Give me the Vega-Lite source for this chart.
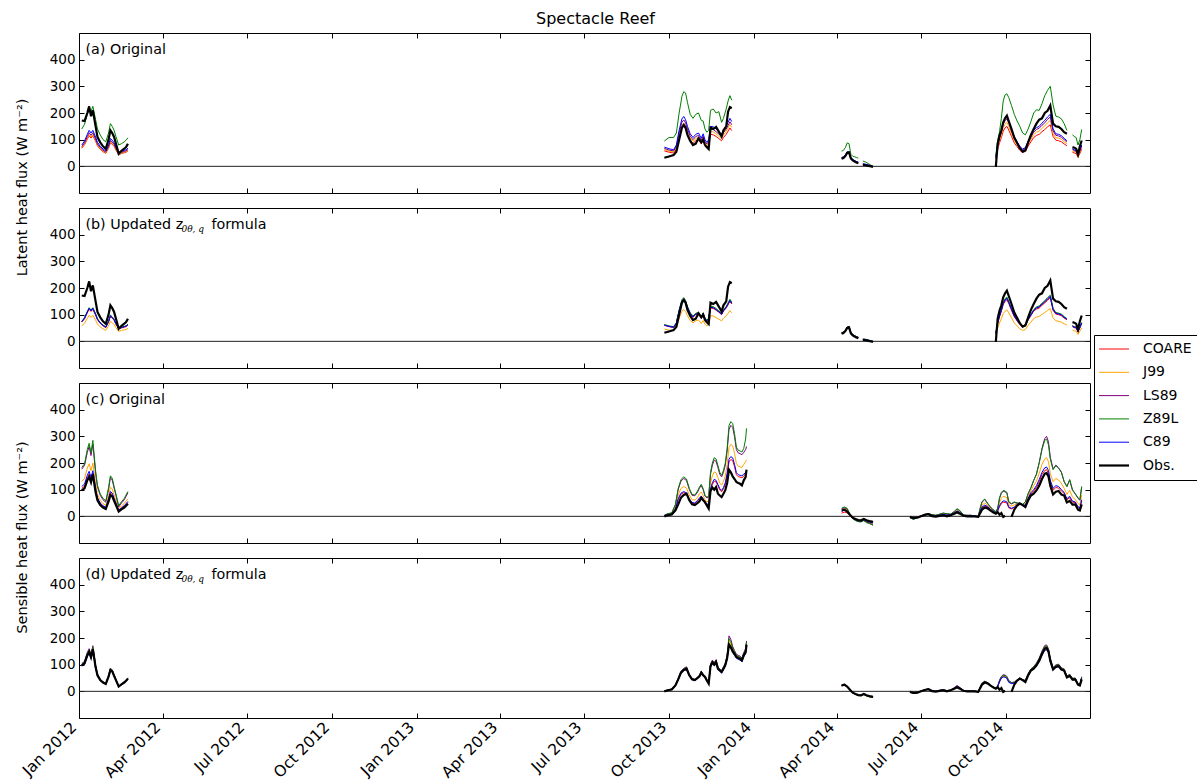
{
  "$schema": "https://vega.github.io/schema/vega-lite/v6.json",
  "padding": {"left": 13, "top": 11, "right": 5, "bottom": 5},
  "bounds": "flush",
  "title": {"text": "Spectacle Reef", "fontSize": 16, "fontWeight": "normal", "font": "DejaVu Sans", "color": "black", "anchor": "middle", "offset": 5, "dx": -11},
  "config": {
    "font": "DejaVu Sans",
    "view": {"stroke": "black", "strokeWidth": 1},
    "axis": {"grid": false, "domain": false, "tickColor": "black", "tickSize": -5, "tickWidth": 1, "labelPadding": 9, "labelFontSize": 13.5, "labelColor": "black", "labelFont": "DejaVu Sans", "titleFont": "DejaVu Sans", "titleFontWeight": "normal", "titleFontSize": 14.5, "titleColor": "black", "labelFlush": false, "labelOverlap": false}
  },
  "datasets": {
    "la": [
      {"d":"2012-01-04","COARE":68,"J99":70,"LS89":74,"Z89L":140,"C89":80,"Obs":172},
      {"d":"2012-01-07","COARE":81,"J99":84,"LS89":88,"Z89L":158,"C89":95,"Obs":170},
      {"d":"2012-01-10","COARE":102,"J99":106,"LS89":112,"Z89L":195,"C89":120,"Obs":200},
      {"d":"2012-01-12","COARE":115,"J99":119,"LS89":126,"Z89L":210,"C89":135,"Obs":225},
      {"d":"2012-01-14","COARE":106,"J99":110,"LS89":116,"Z89L":205,"C89":125,"Obs":188},
      {"d":"2012-01-16","COARE":115,"J99":119,"LS89":126,"Z89L":225,"C89":135,"Obs":210},
      {"d":"2012-01-19","COARE":94,"J99":97,"LS89":102,"Z89L":175,"C89":110,"Obs":150},
      {"d":"2012-01-21","COARE":77,"J99":79,"LS89":84,"Z89L":140,"C89":90,"Obs":110},
      {"d":"2012-01-24","COARE":64,"J99":66,"LS89":70,"Z89L":118,"C89":75,"Obs":90},
      {"d":"2012-01-27","COARE":55,"J99":57,"LS89":60,"Z89L":100,"C89":65,"Obs":75},
      {"d":"2012-01-30","COARE":49,"J99":51,"LS89":54,"Z89L":92,"C89":58,"Obs":66},
      {"d":"2012-02-02","COARE":68,"J99":70,"LS89":74,"Z89L":125,"C89":80,"Obs":100},
      {"d":"2012-02-04","COARE":88,"J99":92,"LS89":97,"Z89L":160,"C89":104,"Obs":135},
      {"d":"2012-02-06","COARE":83,"J99":86,"LS89":91,"Z89L":150,"C89":98,"Obs":125},
      {"d":"2012-02-08","COARE":75,"J99":77,"LS89":82,"Z89L":135,"C89":88,"Obs":110},
      {"d":"2012-02-10","COARE":61,"J99":63,"LS89":67,"Z89L":112,"C89":72,"Obs":85},
      {"d":"2012-02-13","COARE":44,"J99":46,"LS89":48,"Z89L":80,"C89":52,"Obs":47},
      {"d":"2012-02-16","COARE":48,"J99":49,"LS89":52,"Z89L":85,"C89":56,"Obs":58},
      {"d":"2012-02-19","COARE":51,"J99":53,"LS89":56,"Z89L":92,"C89":60,"Obs":66},
      {"d":"2012-02-21","COARE":53,"J99":55,"LS89":58,"Z89L":98,"C89":62,"Obs":72},
      {"d":"2012-02-23","COARE":58,"J99":60,"LS89":63,"Z89L":107,"C89":68,"Obs":85},
      {"d":"2012-06-01"},
      {"d":"2013-09-26","COARE":58,"J99":63,"LS89":67,"Z89L":95,"C89":72,"Obs":32},
      {"d":"2013-10-01","COARE":53,"J99":57,"LS89":61,"Z89L":108,"C89":66,"Obs":37},
      {"d":"2013-10-06","COARE":50,"J99":54,"LS89":58,"Z89L":108,"C89":62,"Obs":42},
      {"d":"2013-10-09","COARE":64,"J99":70,"LS89":74,"Z89L":125,"C89":80,"Obs":55},
      {"d":"2013-10-12","COARE":108,"J99":117,"LS89":126,"Z89L":200,"C89":135,"Obs":100},
      {"d":"2013-10-15","COARE":142,"J99":155,"LS89":166,"Z89L":262,"C89":178,"Obs":145},
      {"d":"2013-10-17","COARE":150,"J99":163,"LS89":174,"Z89L":280,"C89":187,"Obs":155},
      {"d":"2013-10-19","COARE":140,"J99":152,"LS89":163,"Z89L":275,"C89":175,"Obs":145},
      {"d":"2013-10-21","COARE":120,"J99":131,"LS89":140,"Z89L":240,"C89":150,"Obs":118},
      {"d":"2013-10-24","COARE":98,"J99":106,"LS89":113,"Z89L":195,"C89":122,"Obs":95},
      {"d":"2013-10-27","COARE":86,"J99":94,"LS89":100,"Z89L":180,"C89":108,"Obs":80},
      {"d":"2013-10-30","COARE":96,"J99":104,"LS89":112,"Z89L":195,"C89":120,"Obs":85},
      {"d":"2013-11-02","COARE":100,"J99":109,"LS89":116,"Z89L":200,"C89":125,"Obs":105},
      {"d":"2013-11-05","COARE":84,"J99":91,"LS89":98,"Z89L":172,"C89":105,"Obs":90},
      {"d":"2013-11-07","COARE":98,"J99":106,"LS89":113,"Z89L":170,"C89":122,"Obs":100},
      {"d":"2013-11-09","COARE":80,"J99":87,"LS89":93,"Z89L":140,"C89":100,"Obs":80},
      {"d":"2013-11-11","COARE":72,"J99":78,"LS89":84,"Z89L":128,"C89":90,"Obs":72},
      {"d":"2013-11-13","COARE":80,"J99":87,"LS89":93,"Z89L":135,"C89":100,"Obs":65},
      {"d":"2013-11-15","COARE":120,"J99":131,"LS89":140,"Z89L":210,"C89":150,"Obs":145},
      {"d":"2013-11-18","COARE":118,"J99":129,"LS89":138,"Z89L":215,"C89":148,"Obs":140},
      {"d":"2013-11-21","COARE":112,"J99":122,"LS89":130,"Z89L":200,"C89":140,"Obs":148},
      {"d":"2013-11-24","COARE":104,"J99":113,"LS89":121,"Z89L":205,"C89":130,"Obs":130},
      {"d":"2013-11-27","COARE":96,"J99":104,"LS89":112,"Z89L":165,"C89":120,"Obs":112},
      {"d":"2013-11-29","COARE":108,"J99":117,"LS89":126,"Z89L":180,"C89":135,"Obs":135},
      {"d":"2013-12-02","COARE":120,"J99":131,"LS89":140,"Z89L":215,"C89":150,"Obs":150},
      {"d":"2013-12-04","COARE":132,"J99":144,"LS89":153,"Z89L":245,"C89":165,"Obs":205},
      {"d":"2013-12-06","COARE":144,"J99":157,"LS89":167,"Z89L":265,"C89":180,"Obs":222},
      {"d":"2013-12-08","COARE":134,"J99":146,"LS89":156,"Z89L":248,"C89":168,"Obs":218},
      {"d":"2014-01-15"},
      {"d":"2014-04-06","COARE":29,"J99":30,"LS89":32,"Z89L":57,"C89":33,"Obs":29},
      {"d":"2014-04-08","COARE":32,"J99":33,"LS89":35,"Z89L":60,"C89":36,"Obs":31},
      {"d":"2014-04-10","COARE":38,"J99":39,"LS89":41,"Z89L":70,"C89":42,"Obs":38},
      {"d":"2014-04-12","COARE":51,"J99":52,"LS89":54,"Z89L":88,"C89":55,"Obs":50},
      {"d":"2014-04-14","COARE":50,"J99":51,"LS89":53,"Z89L":85,"C89":54,"Obs":52},
      {"d":"2014-04-16","COARE":29,"J99":30,"LS89":32,"Z89L":45,"C89":33,"Obs":30},
      {"d":"2014-04-18","COARE":22,"J99":23,"LS89":25,"Z89L":38,"C89":26,"Obs":22},
      {"d":"2014-04-20","COARE":18,"J99":19,"LS89":21,"Z89L":36,"C89":22,"Obs":18},
      {"d":"2014-04-22","COARE":14,"J99":15,"LS89":17,"Z89L":33,"C89":18,"Obs":14},
      {"d":"2014-04-24","COARE":12,"J99":13,"LS89":15,"Z89L":31,"C89":16,"Obs":12},
      {"d":"2014-04-26"},
      {"d":"2014-04-29","COARE":6,"J99":7,"LS89":9,"Z89L":20,"C89":10,"Obs":5},
      {"d":"2014-05-02","COARE":4,"J99":5,"LS89":7,"Z89L":16,"C89":8,"Obs":4},
      {"d":"2014-05-05","COARE":2,"J99":3,"LS89":4,"Z89L":10,"C89":5,"Obs":2},
      {"d":"2014-05-08","COARE":0,"J99":0,"LS89":1,"Z89L":4,"C89":2,"Obs":0},
      {"d":"2014-05-10","COARE":-2,"J99":-2,"LS89":-1,"Z89L":0,"C89":-1,"Obs":-2},
      {"d":"2014-07-01"},
      {"d":"2014-09-20","COARE":28,"J99":31,"LS89":33,"Z89L":40,"C89":35,"Obs":-2},
      {"d":"2014-09-22","COARE":64,"J99":70,"LS89":76,"Z89L":95,"C89":80,"Obs":85},
      {"d":"2014-09-24","COARE":88,"J99":97,"LS89":105,"Z89L":130,"C89":110,"Obs":115},
      {"d":"2014-09-26","COARE":108,"J99":119,"LS89":128,"Z89L":180,"C89":135,"Obs":135},
      {"d":"2014-09-28","COARE":132,"J99":145,"LS89":157,"Z89L":245,"C89":165,"Obs":165},
      {"d":"2014-09-30","COARE":144,"J99":158,"LS89":171,"Z89L":268,"C89":180,"Obs":180},
      {"d":"2014-10-02","COARE":150,"J99":165,"LS89":178,"Z89L":272,"C89":187,"Obs":190},
      {"d":"2014-10-04","COARE":136,"J99":150,"LS89":162,"Z89L":258,"C89":170,"Obs":170},
      {"d":"2014-10-07","COARE":112,"J99":123,"LS89":133,"Z89L":228,"C89":140,"Obs":140},
      {"d":"2014-10-10","COARE":88,"J99":97,"LS89":105,"Z89L":195,"C89":110,"Obs":108},
      {"d":"2014-10-13","COARE":74,"J99":81,"LS89":87,"Z89L":170,"C89":92,"Obs":88},
      {"d":"2014-10-16","COARE":60,"J99":66,"LS89":71,"Z89L":150,"C89":75,"Obs":68},
      {"d":"2014-10-19","COARE":52,"J99":57,"LS89":62,"Z89L":125,"C89":65,"Obs":55},
      {"d":"2014-10-22","COARE":56,"J99":62,"LS89":67,"Z89L":118,"C89":70,"Obs":60},
      {"d":"2014-10-25","COARE":76,"J99":84,"LS89":90,"Z89L":140,"C89":95,"Obs":90},
      {"d":"2014-10-28","COARE":92,"J99":101,"LS89":109,"Z89L":168,"C89":115,"Obs":118},
      {"d":"2014-10-31","COARE":108,"J99":119,"LS89":128,"Z89L":200,"C89":135,"Obs":140},
      {"d":"2014-11-03","COARE":116,"J99":128,"LS89":138,"Z89L":212,"C89":145,"Obs":160},
      {"d":"2014-11-06","COARE":120,"J99":132,"LS89":143,"Z89L":210,"C89":150,"Obs":175},
      {"d":"2014-11-09","COARE":130,"J99":143,"LS89":154,"Z89L":235,"C89":162,"Obs":180},
      {"d":"2014-11-12","COARE":138,"J99":151,"LS89":163,"Z89L":265,"C89":172,"Obs":200},
      {"d":"2014-11-15","COARE":148,"J99":163,"LS89":176,"Z89L":285,"C89":185,"Obs":208},
      {"d":"2014-11-18","COARE":156,"J99":172,"LS89":185,"Z89L":300,"C89":195,"Obs":228},
      {"d":"2014-11-21","COARE":112,"J99":123,"LS89":133,"Z89L":230,"C89":140,"Obs":160},
      {"d":"2014-11-24","COARE":98,"J99":107,"LS89":116,"Z89L":188,"C89":122,"Obs":150},
      {"d":"2014-11-27","COARE":96,"J99":106,"LS89":114,"Z89L":185,"C89":120,"Obs":148},
      {"d":"2014-11-30","COARE":92,"J99":101,"LS89":109,"Z89L":178,"C89":115,"Obs":140},
      {"d":"2014-12-03","COARE":84,"J99":92,"LS89":100,"Z89L":160,"C89":105,"Obs":128},
      {"d":"2014-12-06","COARE":77,"J99":84,"LS89":91,"Z89L":135,"C89":96,"Obs":122},
      {"d":"2014-12-09"},
      {"d":"2014-12-12","COARE":53,"J99":58,"LS89":63,"Z89L":118,"C89":66,"Obs":72},
      {"d":"2014-12-14","COARE":50,"J99":55,"LS89":59,"Z89L":112,"C89":62,"Obs":70},
      {"d":"2014-12-16","COARE":48,"J99":53,"LS89":57,"Z89L":108,"C89":60,"Obs":66},
      {"d":"2014-12-18","COARE":34,"J99":37,"LS89":40,"Z89L":80,"C89":42,"Obs":45},
      {"d":"2014-12-20","COARE":48,"J99":53,"LS89":57,"Z89L":100,"C89":60,"Obs":75},
      {"d":"2014-12-22","COARE":64,"J99":70,"LS89":76,"Z89L":138,"C89":80,"Obs":97}
    ],
    "lb": [
      {"d":"2012-01-04","COARE":72,"J99":58,"LS89":74,"Z89L":75,"C89":74,"Obs":172},
      {"d":"2012-01-07","COARE":84,"J99":68,"LS89":87,"Z89L":89,"C89":87,"Obs":170},
      {"d":"2012-01-10","COARE":107,"J99":86,"LS89":110,"Z89L":112,"C89":110,"Obs":200},
      {"d":"2012-01-12","COARE":120,"J99":97,"LS89":124,"Z89L":126,"C89":124,"Obs":225},
      {"d":"2012-01-14","COARE":112,"J99":90,"LS89":115,"Z89L":117,"C89":115,"Obs":188},
      {"d":"2012-01-16","COARE":120,"J99":97,"LS89":124,"Z89L":126,"C89":124,"Obs":210},
      {"d":"2012-01-19","COARE":98,"J99":79,"LS89":101,"Z89L":103,"C89":101,"Obs":150},
      {"d":"2012-01-21","COARE":81,"J99":65,"LS89":83,"Z89L":85,"C89":83,"Obs":110},
      {"d":"2012-01-24","COARE":67,"J99":54,"LS89":69,"Z89L":70,"C89":69,"Obs":90},
      {"d":"2012-01-27","COARE":58,"J99":47,"LS89":60,"Z89L":61,"C89":60,"Obs":75},
      {"d":"2012-01-30","COARE":51,"J99":41,"LS89":53,"Z89L":54,"C89":53,"Obs":66},
      {"d":"2012-02-02","COARE":72,"J99":58,"LS89":74,"Z89L":75,"C89":74,"Obs":100},
      {"d":"2012-02-04","COARE":93,"J99":75,"LS89":96,"Z89L":98,"C89":96,"Obs":135},
      {"d":"2012-02-06","COARE":87,"J99":70,"LS89":90,"Z89L":92,"C89":90,"Obs":125},
      {"d":"2012-02-08","COARE":79,"J99":63,"LS89":81,"Z89L":83,"C89":81,"Obs":110},
      {"d":"2012-02-10","COARE":64,"J99":51,"LS89":66,"Z89L":67,"C89":66,"Obs":85},
      {"d":"2012-02-13","COARE":47,"J99":37,"LS89":48,"Z89L":49,"C89":48,"Obs":47},
      {"d":"2012-02-16","COARE":50,"J99":41,"LS89":52,"Z89L":53,"C89":52,"Obs":58},
      {"d":"2012-02-19","COARE":53,"J99":43,"LS89":55,"Z89L":56,"C89":55,"Obs":66},
      {"d":"2012-02-21","COARE":55,"J99":44,"LS89":57,"Z89L":58,"C89":57,"Obs":72},
      {"d":"2012-02-23","COARE":61,"J99":49,"LS89":63,"Z89L":64,"C89":63,"Obs":85},
      {"d":"2012-06-01"},
      {"d":"2013-09-26","COARE":60,"J99":46,"LS89":61,"Z89L":63,"C89":61,"Obs":32},
      {"d":"2013-10-01","COARE":55,"J99":42,"LS89":56,"Z89L":58,"C89":56,"Obs":37},
      {"d":"2013-10-06","COARE":52,"J99":40,"LS89":53,"Z89L":55,"C89":53,"Obs":42},
      {"d":"2013-10-09","COARE":67,"J99":51,"LS89":68,"Z89L":70,"C89":68,"Obs":55},
      {"d":"2013-10-12","COARE":113,"J99":86,"LS89":115,"Z89L":118,"C89":115,"Obs":100},
      {"d":"2013-10-15","COARE":148,"J99":113,"LS89":151,"Z89L":156,"C89":151,"Obs":145},
      {"d":"2013-10-17","COARE":156,"J99":119,"LS89":159,"Z89L":164,"C89":159,"Obs":155},
      {"d":"2013-10-19","COARE":146,"J99":112,"LS89":149,"Z89L":153,"C89":149,"Obs":145},
      {"d":"2013-10-21","COARE":125,"J99":96,"LS89":128,"Z89L":131,"C89":128,"Obs":118},
      {"d":"2013-10-24","COARE":102,"J99":78,"LS89":104,"Z89L":107,"C89":104,"Obs":95},
      {"d":"2013-10-27","COARE":90,"J99":69,"LS89":92,"Z89L":95,"C89":92,"Obs":80},
      {"d":"2013-10-30","COARE":100,"J99":77,"LS89":102,"Z89L":105,"C89":102,"Obs":85},
      {"d":"2013-11-02","COARE":104,"J99":80,"LS89":106,"Z89L":109,"C89":106,"Obs":105},
      {"d":"2013-11-05","COARE":87,"J99":67,"LS89":89,"Z89L":92,"C89":89,"Obs":90},
      {"d":"2013-11-07","COARE":102,"J99":78,"LS89":104,"Z89L":107,"C89":104,"Obs":100},
      {"d":"2013-11-09","COARE":83,"J99":64,"LS89":85,"Z89L":88,"C89":85,"Obs":80},
      {"d":"2013-11-11","COARE":75,"J99":58,"LS89":77,"Z89L":79,"C89":77,"Obs":72},
      {"d":"2013-11-13","COARE":83,"J99":64,"LS89":85,"Z89L":88,"C89":85,"Obs":65},
      {"d":"2013-11-15","COARE":125,"J99":96,"LS89":128,"Z89L":131,"C89":128,"Obs":145},
      {"d":"2013-11-18","COARE":123,"J99":95,"LS89":126,"Z89L":130,"C89":126,"Obs":140},
      {"d":"2013-11-21","COARE":117,"J99":89,"LS89":119,"Z89L":123,"C89":119,"Obs":148},
      {"d":"2013-11-24","COARE":109,"J99":83,"LS89":111,"Z89L":114,"C89":111,"Obs":130},
      {"d":"2013-11-27","COARE":100,"J99":77,"LS89":102,"Z89L":105,"C89":102,"Obs":112},
      {"d":"2013-11-29","COARE":113,"J99":86,"LS89":115,"Z89L":118,"C89":115,"Obs":135},
      {"d":"2013-12-02","COARE":125,"J99":96,"LS89":128,"Z89L":131,"C89":128,"Obs":150},
      {"d":"2013-12-04","COARE":137,"J99":105,"LS89":140,"Z89L":144,"C89":140,"Obs":205},
      {"d":"2013-12-06","COARE":150,"J99":115,"LS89":153,"Z89L":158,"C89":153,"Obs":222},
      {"d":"2013-12-08","COARE":140,"J99":107,"LS89":143,"Z89L":147,"C89":143,"Obs":218},
      {"d":"2014-01-15"},
      {"d":"2014-04-06","COARE":30,"J99":29,"LS89":31,"Z89L":33,"C89":32,"Obs":29},
      {"d":"2014-04-08","COARE":32,"J99":31,"LS89":33,"Z89L":35,"C89":34,"Obs":31},
      {"d":"2014-04-10","COARE":39,"J99":38,"LS89":40,"Z89L":42,"C89":41,"Obs":38},
      {"d":"2014-04-12","COARE":51,"J99":50,"LS89":52,"Z89L":54,"C89":53,"Obs":50},
      {"d":"2014-04-14","COARE":53,"J99":52,"LS89":54,"Z89L":56,"C89":55,"Obs":52},
      {"d":"2014-04-16","COARE":31,"J99":30,"LS89":32,"Z89L":34,"C89":33,"Obs":30},
      {"d":"2014-04-18","COARE":23,"J99":22,"LS89":24,"Z89L":26,"C89":25,"Obs":22},
      {"d":"2014-04-20","COARE":19,"J99":18,"LS89":20,"Z89L":22,"C89":21,"Obs":18},
      {"d":"2014-04-22","COARE":15,"J99":14,"LS89":16,"Z89L":18,"C89":17,"Obs":14},
      {"d":"2014-04-24","COARE":13,"J99":12,"LS89":14,"Z89L":16,"C89":15,"Obs":12},
      {"d":"2014-04-26"},
      {"d":"2014-04-29","COARE":6,"J99":5,"LS89":7,"Z89L":9,"C89":8,"Obs":5},
      {"d":"2014-05-02","COARE":5,"J99":4,"LS89":6,"Z89L":8,"C89":7,"Obs":4},
      {"d":"2014-05-05","COARE":3,"J99":2,"LS89":4,"Z89L":5,"C89":4,"Obs":2},
      {"d":"2014-05-08","COARE":1,"J99":0,"LS89":1,"Z89L":2,"C89":1,"Obs":0},
      {"d":"2014-05-10","COARE":-1,"J99":-2,"LS89":-1,"Z89L":0,"C89":-1,"Obs":-2},
      {"d":"2014-07-01"},
      {"d":"2014-09-20","COARE":29,"J99":22,"LS89":30,"Z89L":31,"C89":30,"Obs":-2},
      {"d":"2014-09-22","COARE":67,"J99":50,"LS89":69,"Z89L":71,"C89":69,"Obs":85},
      {"d":"2014-09-24","COARE":92,"J99":69,"LS89":95,"Z89L":98,"C89":95,"Obs":115},
      {"d":"2014-09-26","COARE":113,"J99":85,"LS89":116,"Z89L":119,"C89":116,"Obs":135},
      {"d":"2014-09-28","COARE":138,"J99":104,"LS89":142,"Z89L":146,"C89":142,"Obs":165},
      {"d":"2014-09-30","COARE":150,"J99":113,"LS89":155,"Z89L":160,"C89":155,"Obs":180},
      {"d":"2014-10-02","COARE":156,"J99":118,"LS89":161,"Z89L":166,"C89":161,"Obs":190},
      {"d":"2014-10-04","COARE":142,"J99":107,"LS89":146,"Z89L":150,"C89":146,"Obs":170},
      {"d":"2014-10-07","COARE":116,"J99":88,"LS89":120,"Z89L":124,"C89":120,"Obs":140},
      {"d":"2014-10-10","COARE":92,"J99":69,"LS89":95,"Z89L":98,"C89":95,"Obs":108},
      {"d":"2014-10-13","COARE":77,"J99":58,"LS89":79,"Z89L":81,"C89":79,"Obs":88},
      {"d":"2014-10-16","COARE":63,"J99":47,"LS89":65,"Z89L":67,"C89":65,"Obs":68},
      {"d":"2014-10-19","COARE":54,"J99":41,"LS89":56,"Z89L":58,"C89":56,"Obs":55},
      {"d":"2014-10-22","COARE":58,"J99":44,"LS89":60,"Z89L":62,"C89":60,"Obs":60},
      {"d":"2014-10-25","COARE":80,"J99":60,"LS89":82,"Z89L":84,"C89":82,"Obs":90},
      {"d":"2014-10-28","COARE":96,"J99":72,"LS89":99,"Z89L":102,"C89":99,"Obs":118},
      {"d":"2014-10-31","COARE":113,"J99":85,"LS89":116,"Z89L":119,"C89":116,"Obs":140},
      {"d":"2014-11-03","COARE":121,"J99":91,"LS89":125,"Z89L":129,"C89":125,"Obs":160},
      {"d":"2014-11-06","COARE":125,"J99":94,"LS89":129,"Z89L":133,"C89":129,"Obs":175},
      {"d":"2014-11-09","COARE":135,"J99":101,"LS89":139,"Z89L":143,"C89":139,"Obs":180},
      {"d":"2014-11-12","COARE":144,"J99":108,"LS89":148,"Z89L":152,"C89":148,"Obs":200},
      {"d":"2014-11-15","COARE":154,"J99":116,"LS89":159,"Z89L":164,"C89":159,"Obs":208},
      {"d":"2014-11-18","COARE":163,"J99":123,"LS89":168,"Z89L":173,"C89":168,"Obs":228},
      {"d":"2014-11-21","COARE":116,"J99":88,"LS89":120,"Z89L":124,"C89":120,"Obs":160},
      {"d":"2014-11-24","COARE":102,"J99":77,"LS89":105,"Z89L":108,"C89":105,"Obs":150},
      {"d":"2014-11-27","COARE":100,"J99":75,"LS89":103,"Z89L":106,"C89":103,"Obs":148},
      {"d":"2014-11-30","COARE":96,"J99":72,"LS89":99,"Z89L":102,"C89":99,"Obs":140},
      {"d":"2014-12-03","COARE":87,"J99":66,"LS89":90,"Z89L":93,"C89":90,"Obs":128},
      {"d":"2014-12-06","COARE":81,"J99":61,"LS89":83,"Z89L":85,"C89":83,"Obs":122},
      {"d":"2014-12-09"},
      {"d":"2014-12-12","COARE":55,"J99":42,"LS89":57,"Z89L":59,"C89":57,"Obs":72},
      {"d":"2014-12-14","COARE":51,"J99":39,"LS89":53,"Z89L":55,"C89":53,"Obs":70},
      {"d":"2014-12-16","COARE":50,"J99":38,"LS89":52,"Z89L":54,"C89":52,"Obs":66},
      {"d":"2014-12-18","COARE":35,"J99":26,"LS89":36,"Z89L":37,"C89":36,"Obs":45},
      {"d":"2014-12-20","COARE":50,"J99":38,"LS89":52,"Z89L":54,"C89":52,"Obs":75},
      {"d":"2014-12-22","COARE":67,"J99":50,"LS89":69,"Z89L":71,"C89":69,"Obs":97}
    ],
    "sc": [
      {"d":"2012-01-04","COARE":105,"J99":131,"LS89":177,"Z89L":183,"C89":112,"Obs":97},
      {"d":"2012-01-07","COARE":113,"J99":142,"LS89":191,"Z89L":197,"C89":121,"Obs":105},
      {"d":"2012-01-10","COARE":145,"J99":181,"LS89":240,"Z89L":251,"C89":154,"Obs":135},
      {"d":"2012-01-12","COARE":159,"J99":197,"LS89":262,"Z89L":274,"C89":169,"Obs":148},
      {"d":"2012-01-14","COARE":138,"J99":171,"LS89":228,"Z89L":238,"C89":146,"Obs":128},
      {"d":"2012-01-16","COARE":161,"J99":200,"LS89":270,"Z89L":285,"C89":171,"Obs":158},
      {"d":"2012-01-19","COARE":97,"J99":122,"LS89":162,"Z89L":170,"C89":104,"Obs":90},
      {"d":"2012-01-21","COARE":66,"J99":83,"LS89":110,"Z89L":116,"C89":70,"Obs":60},
      {"d":"2012-01-24","COARE":47,"J99":60,"LS89":79,"Z89L":84,"C89":50,"Obs":42},
      {"d":"2012-01-27","COARE":37,"J99":48,"LS89":62,"Z89L":67,"C89":40,"Obs":33},
      {"d":"2012-01-30","COARE":32,"J99":41,"LS89":53,"Z89L":58,"C89":34,"Obs":28},
      {"d":"2012-02-02","COARE":60,"J99":77,"LS89":101,"Z89L":107,"C89":65,"Obs":55},
      {"d":"2012-02-04","COARE":87,"J99":109,"LS89":145,"Z89L":152,"C89":93,"Obs":80},
      {"d":"2012-02-06","COARE":82,"J99":103,"LS89":136,"Z89L":143,"C89":87,"Obs":75},
      {"d":"2012-02-08","COARE":63,"J99":80,"LS89":106,"Z89L":112,"C89":68,"Obs":58},
      {"d":"2012-02-10","COARE":47,"J99":60,"LS89":79,"Z89L":84,"C89":50,"Obs":42},
      {"d":"2012-02-13","COARE":21,"J99":28,"LS89":35,"Z89L":40,"C89":23,"Obs":18},
      {"d":"2012-02-16","COARE":30,"J99":39,"LS89":50,"Z89L":55,"C89":32,"Obs":26},
      {"d":"2012-02-19","COARE":37,"J99":48,"LS89":62,"Z89L":67,"C89":40,"Obs":33},
      {"d":"2012-02-21","COARE":44,"J99":57,"LS89":75,"Z89L":80,"C89":48,"Obs":40},
      {"d":"2012-02-23","COARE":52,"J99":66,"LS89":88,"Z89L":93,"C89":56,"Obs":47},
      {"d":"2012-06-01"},
      {"d":"2013-09-26","COARE":2,"J99":3,"LS89":4,"Z89L":4,"C89":3,"Obs":0},
      {"d":"2013-09-30","COARE":6,"J99":8,"LS89":10,"Z89L":10,"C89":6,"Obs":4},
      {"d":"2013-10-04","COARE":8,"J99":10,"LS89":12,"Z89L":13,"C89":8,"Obs":7},
      {"d":"2013-10-08","COARE":27,"J99":34,"LS89":43,"Z89L":45,"C89":28,"Obs":22},
      {"d":"2013-10-11","COARE":63,"J99":80,"LS89":101,"Z89L":105,"C89":66,"Obs":45},
      {"d":"2013-10-14","COARE":83,"J99":105,"LS89":132,"Z89L":138,"C89":87,"Obs":70},
      {"d":"2013-10-17","COARE":89,"J99":112,"LS89":142,"Z89L":148,"C89":93,"Obs":80},
      {"d":"2013-10-20","COARE":84,"J99":106,"LS89":134,"Z89L":140,"C89":88,"Obs":85},
      {"d":"2013-10-23","COARE":63,"J99":80,"LS89":101,"Z89L":105,"C89":66,"Obs":60},
      {"d":"2013-10-26","COARE":49,"J99":62,"LS89":79,"Z89L":82,"C89":52,"Obs":45},
      {"d":"2013-10-29","COARE":48,"J99":61,"LS89":77,"Z89L":80,"C89":50,"Obs":42},
      {"d":"2013-11-01","COARE":57,"J99":72,"LS89":91,"Z89L":95,"C89":60,"Obs":50},
      {"d":"2013-11-03","COARE":66,"J99":84,"LS89":106,"Z89L":110,"C89":69,"Obs":56},
      {"d":"2013-11-05","COARE":72,"J99":91,"LS89":115,"Z89L":120,"C89":76,"Obs":70},
      {"d":"2013-11-07","COARE":62,"J99":79,"LS89":100,"Z89L":104,"C89":66,"Obs":60},
      {"d":"2013-11-09","COARE":47,"J99":60,"LS89":76,"Z89L":79,"C89":50,"Obs":54},
      {"d":"2013-11-11","COARE":43,"J99":55,"LS89":69,"Z89L":72,"C89":45,"Obs":41},
      {"d":"2013-11-13","COARE":45,"J99":57,"LS89":72,"Z89L":75,"C89":47,"Obs":29},
      {"d":"2013-11-15","COARE":99,"J99":125,"LS89":158,"Z89L":165,"C89":104,"Obs":95},
      {"d":"2013-11-17","COARE":120,"J99":152,"LS89":192,"Z89L":200,"C89":126,"Obs":108},
      {"d":"2013-11-19","COARE":132,"J99":167,"LS89":211,"Z89L":220,"C89":139,"Obs":100},
      {"d":"2013-11-21","COARE":129,"J99":163,"LS89":206,"Z89L":215,"C89":135,"Obs":110},
      {"d":"2013-11-23","COARE":115,"J99":145,"LS89":183,"Z89L":191,"C89":120,"Obs":85},
      {"d":"2013-11-25","COARE":99,"J99":125,"LS89":158,"Z89L":165,"C89":104,"Obs":78},
      {"d":"2013-11-27","COARE":92,"J99":117,"LS89":148,"Z89L":154,"C89":97,"Obs":72},
      {"d":"2013-11-29","COARE":103,"J99":131,"LS89":165,"Z89L":172,"C89":108,"Obs":85},
      {"d":"2013-12-01","COARE":120,"J99":152,"LS89":192,"Z89L":200,"C89":126,"Obs":98},
      {"d":"2013-12-03","COARE":153,"J99":194,"LS89":245,"Z89L":255,"C89":161,"Obs":125},
      {"d":"2013-12-05","COARE":204,"J99":258,"LS89":326,"Z89L":340,"C89":214,"Obs":175},
      {"d":"2013-12-07","COARE":213,"J99":270,"LS89":341,"Z89L":355,"C89":224,"Obs":165},
      {"d":"2013-12-09","COARE":209,"J99":264,"LS89":334,"Z89L":348,"C89":219,"Obs":150},
      {"d":"2013-12-11","COARE":186,"J99":236,"LS89":298,"Z89L":310,"C89":195,"Obs":140},
      {"d":"2013-12-13","COARE":156,"J99":198,"LS89":250,"Z89L":260,"C89":164,"Obs":129},
      {"d":"2013-12-15","COARE":149,"J99":188,"LS89":238,"Z89L":248,"C89":156,"Obs":125},
      {"d":"2013-12-17","COARE":147,"J99":186,"LS89":235,"Z89L":245,"C89":154,"Obs":122},
      {"d":"2013-12-19","COARE":145,"J99":183,"LS89":231,"Z89L":241,"C89":152,"Obs":116},
      {"d":"2013-12-21","COARE":150,"J99":195,"LS89":240,"Z89L":255,"C89":158,"Obs":135},
      {"d":"2013-12-23","COARE":162,"J99":205,"LS89":250,"Z89L":290,"C89":165,"Obs":147},
      {"d":"2013-12-24","COARE":170,"J99":212,"LS89":262,"Z89L":330,"C89":172,"Obs":175},
      {"d":"2014-01-15"},
      {"d":"2014-04-06","COARE":12,"J99":20,"LS89":28,"Z89L":31,"C89":18,"Obs":22},
      {"d":"2014-04-09","COARE":16,"J99":28,"LS89":32,"Z89L":35,"C89":24,"Obs":25},
      {"d":"2014-04-12","COARE":13,"J99":24,"LS89":28,"Z89L":30,"C89":20,"Obs":18},
      {"d":"2014-04-15","COARE":3,"J99":7,"LS89":7,"Z89L":8,"C89":6,"Obs":6},
      {"d":"2014-04-18","COARE":-6,"J99":-7,"LS89":-8,"Z89L":-9,"C89":-6,"Obs":-5},
      {"d":"2014-04-21","COARE":-10,"J99":-13,"LS89":-15,"Z89L":-16,"C89":-12,"Obs":-10},
      {"d":"2014-04-24","COARE":-14,"J99":-17,"LS89":-19,"Z89L":-20,"C89":-16,"Obs":-14},
      {"d":"2014-04-27","COARE":-15,"J99":-18,"LS89":-20,"Z89L":-21,"C89":-17,"Obs":-15},
      {"d":"2014-04-30","COARE":-11,"J99":-13,"LS89":-15,"Z89L":-16,"C89":-12,"Obs":-10},
      {"d":"2014-05-03","COARE":-16,"J99":-20,"LS89":-22,"Z89L":-24,"C89":-18,"Obs":-15},
      {"d":"2014-05-06","COARE":-19,"J99":-23,"LS89":-25,"Z89L":-27,"C89":-21,"Obs":-18},
      {"d":"2014-05-09","COARE":-22,"J99":-27,"LS89":-30,"Z89L":-32,"C89":-24,"Obs":-20},
      {"d":"2014-05-10","COARE":-23,"J99":-28,"LS89":-32,"Z89L":-34,"C89":-25,"Obs":-21},
      {"d":"2014-06-01"},
      {"d":"2014-06-19","COARE":-3,"J99":-4,"LS89":-5,"Z89L":-5,"C89":-3,"Obs":-2},
      {"d":"2014-06-23","COARE":-7,"J99":-9,"LS89":-11,"Z89L":-12,"C89":-8,"Obs":-6},
      {"d":"2014-06-27","COARE":-4,"J99":-4,"LS89":-3,"Z89L":-3,"C89":-4,"Obs":-5},
      {"d":"2014-07-01","COARE":1,"J99":1,"LS89":2,"Z89L":2,"C89":1,"Obs":0},
      {"d":"2014-07-05","COARE":6,"J99":7,"LS89":8,"Z89L":8,"C89":6,"Obs":5},
      {"d":"2014-07-09","COARE":8,"J99":9,"LS89":10,"Z89L":10,"C89":9,"Obs":8},
      {"d":"2014-07-13","COARE":3,"J99":4,"LS89":6,"Z89L":6,"C89":3,"Obs":1},
      {"d":"2014-07-17","COARE":1,"J99":2,"LS89":4,"Z89L":4,"C89":1,"Obs":-1},
      {"d":"2014-07-21","COARE":4,"J99":5,"LS89":8,"Z89L":8,"C89":4,"Obs":2},
      {"d":"2014-07-25","COARE":6,"J99":8,"LS89":12,"Z89L":12,"C89":7,"Obs":4},
      {"d":"2014-07-29","COARE":4,"J99":6,"LS89":9,"Z89L":10,"C89":5,"Obs":0},
      {"d":"2014-08-02","COARE":5,"J99":6,"LS89":8,"Z89L":8,"C89":6,"Obs":4},
      {"d":"2014-08-06","COARE":12,"J99":14,"LS89":18,"Z89L":18,"C89":13,"Obs":10},
      {"d":"2014-08-09","COARE":18,"J99":22,"LS89":28,"Z89L":28,"C89":20,"Obs":15},
      {"d":"2014-08-12","COARE":14,"J99":17,"LS89":21,"Z89L":22,"C89":15,"Obs":10},
      {"d":"2014-08-16","COARE":3,"J99":4,"LS89":5,"Z89L":5,"C89":3,"Obs":2},
      {"d":"2014-08-20","COARE":2,"J99":3,"LS89":4,"Z89L":4,"C89":2,"Obs":0},
      {"d":"2014-08-24","COARE":2,"J99":3,"LS89":4,"Z89L":4,"C89":2,"Obs":0},
      {"d":"2014-08-28","COARE":1,"J99":1,"LS89":2,"Z89L":2,"C89":1,"Obs":0},
      {"d":"2014-09-01","COARE":-1,"J99":-1,"LS89":0,"Z89L":0,"C89":-1,"Obs":-2},
      {"d":"2014-09-03","COARE":16,"J99":22,"LS89":29,"Z89L":30,"C89":18,"Obs":12},
      {"d":"2014-09-05","COARE":32,"J99":42,"LS89":53,"Z89L":55,"C89":35,"Obs":25},
      {"d":"2014-09-08","COARE":39,"J99":50,"LS89":63,"Z89L":65,"C89":42,"Obs":33},
      {"d":"2014-09-11","COARE":35,"J99":42,"LS89":48,"Z89L":50,"C89":37,"Obs":30},
      {"d":"2014-09-14","COARE":26,"J99":30,"LS89":35,"Z89L":36,"C89":27,"Obs":22},
      {"d":"2014-09-17","COARE":18,"J99":21,"LS89":24,"Z89L":25,"C89":19,"Obs":15},
      {"d":"2014-09-20","COARE":12,"J99":15,"LS89":17,"Z89L":18,"C89":13,"Obs":10},
      {"d":"2014-09-22","COARE":20,"J99":24,"LS89":29,"Z89L":30,"C89":21,"Obs":16},
      {"d":"2014-09-24","COARE":36,"J99":52,"LS89":67,"Z89L":70,"C89":40,"Obs":6},
      {"d":"2014-09-26","COARE":48,"J99":68,"LS89":86,"Z89L":90,"C89":52,"Obs":12},
      {"d":"2014-09-28","COARE":53,"J99":75,"LS89":94,"Z89L":97,"C89":58,"Obs":-2},
      {"d":"2014-09-30","COARE":52,"J99":73,"LS89":92,"Z89L":95,"C89":57,"Obs":2},
      {"d":"2014-10-02","COARE":50,"J99":70,"LS89":87,"Z89L":90,"C89":54},
      {"d":"2014-10-04","COARE":32,"J99":44,"LS89":53,"Z89L":55,"C89":35},
      {"d":"2014-10-07","COARE":28,"J99":38,"LS89":46,"Z89L":48,"C89":30,"Obs":-2},
      {"d":"2014-10-10","COARE":33,"J99":43,"LS89":52,"Z89L":54,"C89":35,"Obs":25},
      {"d":"2014-10-13","COARE":42,"J99":46,"LS89":49,"Z89L":50,"C89":44,"Obs":40},
      {"d":"2014-10-16","COARE":47,"J99":49,"LS89":50,"Z89L":50,"C89":48,"Obs":48},
      {"d":"2014-10-19","COARE":42,"J99":44,"LS89":45,"Z89L":45,"C89":43,"Obs":42},
      {"d":"2014-10-22","COARE":40,"J99":48,"LS89":54,"Z89L":55,"C89":42,"Obs":35},
      {"d":"2014-10-25","COARE":65,"J99":75,"LS89":84,"Z89L":85,"C89":68,"Obs":60},
      {"d":"2014-10-28","COARE":84,"J99":96,"LS89":107,"Z89L":108,"C89":88,"Obs":78},
      {"d":"2014-10-31","COARE":95,"J99":115,"LS89":134,"Z89L":135,"C89":100,"Obs":85},
      {"d":"2014-11-03","COARE":109,"J99":132,"LS89":158,"Z89L":158,"C89":115,"Obs":97},
      {"d":"2014-11-06","COARE":130,"J99":162,"LS89":202,"Z89L":200,"C89":138,"Obs":115},
      {"d":"2014-11-09","COARE":157,"J99":195,"LS89":255,"Z89L":250,"C89":165,"Obs":140},
      {"d":"2014-11-12","COARE":172,"J99":215,"LS89":292,"Z89L":285,"C89":182,"Obs":160},
      {"d":"2014-11-14","COARE":175,"J99":220,"LS89":300,"Z89L":290,"C89":185,"Obs":162},
      {"d":"2014-11-16","COARE":162,"J99":205,"LS89":280,"Z89L":268,"C89":172,"Obs":150},
      {"d":"2014-11-18","COARE":128,"J99":160,"LS89":222,"Z89L":215,"C89":135,"Obs":115},
      {"d":"2014-11-21","COARE":98,"J99":130,"LS89":178,"Z89L":175,"C89":105,"Obs":82},
      {"d":"2014-11-24","COARE":108,"J99":142,"LS89":192,"Z89L":190,"C89":115,"Obs":92},
      {"d":"2014-11-27","COARE":106,"J99":136,"LS89":182,"Z89L":180,"C89":112,"Obs":95},
      {"d":"2014-11-30","COARE":95,"J99":124,"LS89":166,"Z89L":165,"C89":100,"Obs":82},
      {"d":"2014-12-03","COARE":86,"J99":105,"LS89":130,"Z89L":130,"C89":90,"Obs":78},
      {"d":"2014-12-06","COARE":62,"J99":82,"LS89":112,"Z89L":112,"C89":66,"Obs":52},
      {"d":"2014-12-09","COARE":70,"J99":98,"LS89":136,"Z89L":138,"C89":75,"Obs":58},
      {"d":"2014-12-12","COARE":53,"J99":72,"LS89":98,"Z89L":100,"C89":57,"Obs":44},
      {"d":"2014-12-15","COARE":51,"J99":64,"LS89":84,"Z89L":85,"C89":54,"Obs":45},
      {"d":"2014-12-18","COARE":33,"J99":48,"LS89":68,"Z89L":70,"C89":36,"Obs":25},
      {"d":"2014-12-20","COARE":29,"J99":42,"LS89":60,"Z89L":62,"C89":32,"Obs":22},
      {"d":"2014-12-22","COARE":57,"J99":80,"LS89":108,"Z89L":112,"C89":62,"Obs":45}
    ],
    "sd": [
      {"d":"2012-01-04","COARE":98,"J99":100,"LS89":104,"Z89L":101,"C89":95,"Obs":97},
      {"d":"2012-01-07","COARE":106,"J99":109,"LS89":113,"Z89L":110,"C89":101,"Obs":105},
      {"d":"2012-01-10","COARE":136,"J99":140,"LS89":146,"Z89L":142,"C89":130,"Obs":135},
      {"d":"2012-01-12","COARE":149,"J99":154,"LS89":160,"Z89L":155,"C89":142,"Obs":148},
      {"d":"2012-01-14","COARE":129,"J99":133,"LS89":138,"Z89L":134,"C89":123,"Obs":128},
      {"d":"2012-01-16","COARE":160,"J99":164,"LS89":171,"Z89L":166,"C89":152,"Obs":158},
      {"d":"2012-01-19","COARE":91,"J99":94,"LS89":97,"Z89L":95,"C89":86,"Obs":90},
      {"d":"2012-01-21","COARE":61,"J99":62,"LS89":65,"Z89L":63,"C89":58,"Obs":60},
      {"d":"2012-01-24","COARE":42,"J99":44,"LS89":45,"Z89L":44,"C89":40,"Obs":42},
      {"d":"2012-01-27","COARE":33,"J99":34,"LS89":36,"Z89L":35,"C89":32,"Obs":33},
      {"d":"2012-01-30","COARE":28,"J99":29,"LS89":30,"Z89L":29,"C89":27,"Obs":28},
      {"d":"2012-02-02","COARE":56,"J99":57,"LS89":59,"Z89L":58,"C89":53,"Obs":55},
      {"d":"2012-02-04","COARE":81,"J99":83,"LS89":86,"Z89L":84,"C89":77,"Obs":80},
      {"d":"2012-02-06","COARE":76,"J99":78,"LS89":81,"Z89L":79,"C89":72,"Obs":75},
      {"d":"2012-02-08","COARE":59,"J99":60,"LS89":63,"Z89L":61,"C89":56,"Obs":58},
      {"d":"2012-02-10","COARE":42,"J99":44,"LS89":45,"Z89L":44,"C89":40,"Obs":42},
      {"d":"2012-02-13","COARE":18,"J99":19,"LS89":19,"Z89L":19,"C89":17,"Obs":18},
      {"d":"2012-02-16","COARE":26,"J99":27,"LS89":28,"Z89L":27,"C89":25,"Obs":26},
      {"d":"2012-02-19","COARE":33,"J99":34,"LS89":36,"Z89L":35,"C89":32,"Obs":33},
      {"d":"2012-02-21","COARE":40,"J99":42,"LS89":43,"Z89L":42,"C89":38,"Obs":40},
      {"d":"2012-02-23","COARE":47,"J99":49,"LS89":51,"Z89L":49,"C89":45,"Obs":47},
      {"d":"2012-06-01"},
      {"d":"2013-09-26","COARE":0,"J99":1,"LS89":1,"Z89L":1,"C89":0,"Obs":0},
      {"d":"2013-09-30","COARE":4,"J99":5,"LS89":6,"Z89L":5,"C89":4,"Obs":4},
      {"d":"2013-10-04","COARE":7,"J99":8,"LS89":9,"Z89L":8,"C89":7,"Obs":7},
      {"d":"2013-10-08","COARE":22,"J99":23,"LS89":24,"Z89L":23,"C89":21,"Obs":22},
      {"d":"2013-10-11","COARE":45,"J99":47,"LS89":49,"Z89L":47,"C89":43,"Obs":45},
      {"d":"2013-10-14","COARE":71,"J99":73,"LS89":76,"Z89L":74,"C89":67,"Obs":70},
      {"d":"2013-10-17","COARE":81,"J99":83,"LS89":86,"Z89L":84,"C89":77,"Obs":80},
      {"d":"2013-10-20","COARE":86,"J99":88,"LS89":92,"Z89L":89,"C89":82,"Obs":85},
      {"d":"2013-10-23","COARE":61,"J99":62,"LS89":65,"Z89L":63,"C89":58,"Obs":60},
      {"d":"2013-10-26","COARE":45,"J99":47,"LS89":49,"Z89L":47,"C89":43,"Obs":45},
      {"d":"2013-10-29","COARE":42,"J99":44,"LS89":45,"Z89L":44,"C89":40,"Obs":42},
      {"d":"2013-11-01","COARE":51,"J99":52,"LS89":54,"Z89L":53,"C89":48,"Obs":50},
      {"d":"2013-11-03","COARE":57,"J99":58,"LS89":60,"Z89L":59,"C89":54,"Obs":56},
      {"d":"2013-11-05","COARE":71,"J99":73,"LS89":76,"Z89L":74,"C89":67,"Obs":70},
      {"d":"2013-11-07","COARE":61,"J99":62,"LS89":65,"Z89L":63,"C89":58,"Obs":60},
      {"d":"2013-11-09","COARE":55,"J99":56,"LS89":58,"Z89L":57,"C89":52,"Obs":54},
      {"d":"2013-11-11","COARE":41,"J99":43,"LS89":44,"Z89L":43,"C89":39,"Obs":41},
      {"d":"2013-11-13","COARE":29,"J99":30,"LS89":31,"Z89L":30,"C89":28,"Obs":29},
      {"d":"2013-11-15","COARE":96,"J99":99,"LS89":103,"Z89L":100,"C89":91,"Obs":95},
      {"d":"2013-11-17","COARE":109,"J99":112,"LS89":117,"Z89L":113,"C89":104,"Obs":108},
      {"d":"2013-11-19","COARE":101,"J99":104,"LS89":108,"Z89L":105,"C89":96,"Obs":100},
      {"d":"2013-11-21","COARE":111,"J99":114,"LS89":119,"Z89L":116,"C89":106,"Obs":110},
      {"d":"2013-11-23","COARE":86,"J99":88,"LS89":92,"Z89L":89,"C89":82,"Obs":85},
      {"d":"2013-11-25","COARE":79,"J99":81,"LS89":84,"Z89L":82,"C89":75,"Obs":78},
      {"d":"2013-11-27","COARE":73,"J99":75,"LS89":78,"Z89L":76,"C89":69,"Obs":72},
      {"d":"2013-11-29","COARE":86,"J99":88,"LS89":92,"Z89L":89,"C89":82,"Obs":85},
      {"d":"2013-12-01","COARE":99,"J99":102,"LS89":106,"Z89L":103,"C89":94,"Obs":98},
      {"d":"2013-12-03","COARE":126,"J99":130,"LS89":135,"Z89L":131,"C89":120,"Obs":125},
      {"d":"2013-12-05","COARE":180,"J99":190,"LS89":208,"Z89L":198,"C89":172,"Obs":175},
      {"d":"2013-12-07","COARE":170,"J99":178,"LS89":195,"Z89L":186,"C89":162,"Obs":165},
      {"d":"2013-12-09","COARE":153,"J99":158,"LS89":168,"Z89L":162,"C89":146,"Obs":150},
      {"d":"2013-12-11","COARE":142,"J99":146,"LS89":153,"Z89L":148,"C89":135,"Obs":140},
      {"d":"2013-12-13","COARE":130,"J99":134,"LS89":139,"Z89L":135,"C89":124,"Obs":129},
      {"d":"2013-12-15","COARE":126,"J99":130,"LS89":135,"Z89L":131,"C89":120,"Obs":125},
      {"d":"2013-12-17","COARE":123,"J99":127,"LS89":132,"Z89L":128,"C89":117,"Obs":122},
      {"d":"2013-12-19","COARE":117,"J99":121,"LS89":125,"Z89L":122,"C89":111,"Obs":116},
      {"d":"2013-12-21","COARE":136,"J99":140,"LS89":146,"Z89L":142,"C89":130,"Obs":135},
      {"d":"2013-12-23","COARE":148,"J99":153,"LS89":159,"Z89L":154,"C89":141,"Obs":147},
      {"d":"2013-12-24","COARE":177,"J99":182,"LS89":189,"Z89L":184,"C89":168,"Obs":175},
      {"d":"2014-01-15"},
      {"d":"2014-04-06","COARE":20,"J99":22,"LS89":24,"Z89L":23,"C89":21,"Obs":22},
      {"d":"2014-04-09","COARE":23,"J99":25,"LS89":27,"Z89L":26,"C89":24,"Obs":25},
      {"d":"2014-04-12","COARE":17,"J99":18,"LS89":19,"Z89L":19,"C89":17,"Obs":18},
      {"d":"2014-04-15","COARE":6,"J99":6,"LS89":7,"Z89L":6,"C89":5,"Obs":6},
      {"d":"2014-04-18","COARE":-5,"J99":-6,"LS89":-6,"Z89L":-6,"C89":-5,"Obs":-5},
      {"d":"2014-04-21","COARE":-10,"J99":-11,"LS89":-11,"Z89L":-11,"C89":-10,"Obs":-10},
      {"d":"2014-04-24","COARE":-14,"J99":-16,"LS89":-15,"Z89L":-15,"C89":-14,"Obs":-14},
      {"d":"2014-04-27","COARE":-15,"J99":-17,"LS89":-16,"Z89L":-16,"C89":-15,"Obs":-15},
      {"d":"2014-04-30","COARE":-10,"J99":-12,"LS89":-11,"Z89L":-11,"C89":-10,"Obs":-10},
      {"d":"2014-05-03","COARE":-16,"J99":-18,"LS89":-17,"Z89L":-17,"C89":-15,"Obs":-15},
      {"d":"2014-05-06","COARE":-19,"J99":-21,"LS89":-20,"Z89L":-20,"C89":-18,"Obs":-18},
      {"d":"2014-05-09","COARE":-21,"J99":-23,"LS89":-22,"Z89L":-22,"C89":-20,"Obs":-20},
      {"d":"2014-05-10","COARE":-22,"J99":-24,"LS89":-23,"Z89L":-23,"C89":-21,"Obs":-21},
      {"d":"2014-06-01"},
      {"d":"2014-06-19","COARE":-3,"J99":-4,"LS89":-2,"Z89L":-3,"C89":-3,"Obs":-2},
      {"d":"2014-06-23","COARE":-7,"J99":-8,"LS89":-6,"Z89L":-7,"C89":-7,"Obs":-6},
      {"d":"2014-06-27","COARE":-5,"J99":-6,"LS89":-4,"Z89L":-5,"C89":-5,"Obs":-5},
      {"d":"2014-07-01","COARE":0,"J99":0,"LS89":1,"Z89L":1,"C89":0,"Obs":0},
      {"d":"2014-07-05","COARE":5,"J99":5,"LS89":6,"Z89L":6,"C89":5,"Obs":5},
      {"d":"2014-07-09","COARE":8,"J99":8,"LS89":9,"Z89L":9,"C89":8,"Obs":8},
      {"d":"2014-07-13","COARE":2,"J99":2,"LS89":3,"Z89L":2,"C89":2,"Obs":1},
      {"d":"2014-07-17","COARE":0,"J99":0,"LS89":1,"Z89L":0,"C89":0,"Obs":-1},
      {"d":"2014-07-21","COARE":3,"J99":3,"LS89":4,"Z89L":3,"C89":3,"Obs":2},
      {"d":"2014-07-25","COARE":5,"J99":5,"LS89":7,"Z89L":6,"C89":5,"Obs":4},
      {"d":"2014-07-29","COARE":1,"J99":1,"LS89":3,"Z89L":2,"C89":1,"Obs":0},
      {"d":"2014-08-02","COARE":4,"J99":4,"LS89":5,"Z89L":5,"C89":4,"Obs":4},
      {"d":"2014-08-06","COARE":11,"J99":11,"LS89":14,"Z89L":12,"C89":11,"Obs":10},
      {"d":"2014-08-09","COARE":17,"J99":17,"LS89":22,"Z89L":19,"C89":17,"Obs":15},
      {"d":"2014-08-12","COARE":12,"J99":12,"LS89":15,"Z89L":13,"C89":12,"Obs":10},
      {"d":"2014-08-16","COARE":3,"J99":3,"LS89":3,"Z89L":3,"C89":3,"Obs":2},
      {"d":"2014-08-20","COARE":1,"J99":1,"LS89":1,"Z89L":1,"C89":1,"Obs":0},
      {"d":"2014-08-24","COARE":1,"J99":1,"LS89":1,"Z89L":1,"C89":1,"Obs":0},
      {"d":"2014-08-28","COARE":0,"J99":0,"LS89":1,"Z89L":1,"C89":0,"Obs":0},
      {"d":"2014-09-01","COARE":-2,"J99":-2,"LS89":-1,"Z89L":-1,"C89":-2,"Obs":-2},
      {"d":"2014-09-03","COARE":14,"J99":14,"LS89":16,"Z89L":15,"C89":13,"Obs":12},
      {"d":"2014-09-05","COARE":28,"J99":28,"LS89":31,"Z89L":30,"C89":27,"Obs":25},
      {"d":"2014-09-08","COARE":35,"J99":36,"LS89":38,"Z89L":37,"C89":34,"Obs":33},
      {"d":"2014-09-11","COARE":31,"J99":32,"LS89":33,"Z89L":33,"C89":30,"Obs":30},
      {"d":"2014-09-14","COARE":23,"J99":23,"LS89":24,"Z89L":24,"C89":22,"Obs":22},
      {"d":"2014-09-17","COARE":16,"J99":16,"LS89":17,"Z89L":17,"C89":15,"Obs":15},
      {"d":"2014-09-20","COARE":11,"J99":11,"LS89":12,"Z89L":12,"C89":11,"Obs":10},
      {"d":"2014-09-22","COARE":18,"J99":18,"LS89":20,"Z89L":19,"C89":17,"Obs":16},
      {"d":"2014-09-24","COARE":35,"J99":38,"LS89":42,"Z89L":40,"C89":36,"Obs":6},
      {"d":"2014-09-26","COARE":50,"J99":52,"LS89":56,"Z89L":54,"C89":50,"Obs":12},
      {"d":"2014-09-28","COARE":55,"J99":58,"LS89":62,"Z89L":60,"C89":54,"Obs":-2},
      {"d":"2014-09-30","COARE":55,"J99":57,"LS89":61,"Z89L":59,"C89":53,"Obs":2},
      {"d":"2014-10-02","COARE":50,"J99":52,"LS89":56,"Z89L":54,"C89":48},
      {"d":"2014-10-04","COARE":35,"J99":37,"LS89":40,"Z89L":38,"C89":34},
      {"d":"2014-10-07","COARE":30,"J99":31,"LS89":33,"Z89L":32,"C89":29,"Obs":-2},
      {"d":"2014-10-10","COARE":32,"J99":33,"LS89":35,"Z89L":34,"C89":31,"Obs":25},
      {"d":"2014-10-13","COARE":41,"J99":42,"LS89":43,"Z89L":42,"C89":40,"Obs":40},
      {"d":"2014-10-16","COARE":48,"J99":49,"LS89":50,"Z89L":49,"C89":47,"Obs":48},
      {"d":"2014-10-19","COARE":42,"J99":43,"LS89":44,"Z89L":43,"C89":41,"Obs":42},
      {"d":"2014-10-22","COARE":38,"J99":39,"LS89":41,"Z89L":40,"C89":37,"Obs":35},
      {"d":"2014-10-25","COARE":62,"J99":64,"LS89":66,"Z89L":65,"C89":60,"Obs":60},
      {"d":"2014-10-28","COARE":80,"J99":82,"LS89":84,"Z89L":83,"C89":77,"Obs":78},
      {"d":"2014-10-31","COARE":88,"J99":90,"LS89":93,"Z89L":91,"C89":84,"Obs":85},
      {"d":"2014-11-03","COARE":100,"J99":103,"LS89":106,"Z89L":104,"C89":95,"Obs":97},
      {"d":"2014-11-06","COARE":118,"J99":121,"LS89":125,"Z89L":122,"C89":112,"Obs":115},
      {"d":"2014-11-09","COARE":143,"J99":146,"LS89":151,"Z89L":148,"C89":135,"Obs":140},
      {"d":"2014-11-12","COARE":163,"J99":166,"LS89":172,"Z89L":168,"C89":154,"Obs":160},
      {"d":"2014-11-14","COARE":165,"J99":168,"LS89":174,"Z89L":170,"C89":156,"Obs":162},
      {"d":"2014-11-16","COARE":152,"J99":155,"LS89":160,"Z89L":157,"C89":145,"Obs":150},
      {"d":"2014-11-18","COARE":117,"J99":119,"LS89":123,"Z89L":121,"C89":111,"Obs":115},
      {"d":"2014-11-21","COARE":84,"J99":86,"LS89":89,"Z89L":87,"C89":80,"Obs":82},
      {"d":"2014-11-24","COARE":94,"J99":96,"LS89":99,"Z89L":97,"C89":89,"Obs":92},
      {"d":"2014-11-27","COARE":97,"J99":99,"LS89":102,"Z89L":100,"C89":92,"Obs":95},
      {"d":"2014-11-30","COARE":84,"J99":86,"LS89":88,"Z89L":86,"C89":80,"Obs":82},
      {"d":"2014-12-03","COARE":80,"J99":81,"LS89":84,"Z89L":82,"C89":76,"Obs":78},
      {"d":"2014-12-06","COARE":54,"J99":55,"LS89":57,"Z89L":56,"C89":51,"Obs":52},
      {"d":"2014-12-09","COARE":60,"J99":62,"LS89":64,"Z89L":63,"C89":57,"Obs":58},
      {"d":"2014-12-12","COARE":46,"J99":47,"LS89":49,"Z89L":48,"C89":43,"Obs":44},
      {"d":"2014-12-15","COARE":47,"J99":48,"LS89":50,"Z89L":49,"C89":44,"Obs":45},
      {"d":"2014-12-18","COARE":27,"J99":28,"LS89":30,"Z89L":29,"C89":25,"Obs":25},
      {"d":"2014-12-20","COARE":24,"J99":25,"LS89":27,"Z89L":26,"C89":22,"Obs":22},
      {"d":"2014-12-22","COARE":50,"J99":52,"LS89":55,"Z89L":53,"C89":48,"Obs":45}
    ]
  },
  "vconcat": [
    {
      "width": 1011, "height": 160,
      "layer": [
        {"data": {"values": [{}]}, "mark": {"type": "rule", "color": "#222222", "strokeWidth": 1}, "encoding": {"y": {"datum": 0, "type": "quantitative", "scale": {"domain": [-100, 500]}, "axis": null}}},
        {
          "data": {"name": "la"},
          "transform": [{"fold": ["COARE", "J99", "LS89", "Z89L", "C89", "Obs"], "as": ["model", "v"]}],
          "mark": {"type": "line", "clip": true, "invalid": "break-paths-show-domains"},
          "encoding": {
            "x": {"field": "d", "type": "temporal", "scale": {"domain": [{"year": 2012, "month": 1, "date": 1}, {"year": 2014, "month": 12, "date": 31}]}, "axis": {"title": null, "labels": false, "tickCount": {"interval": "month", "step": 3}}},
            "y": {"field": "v", "type": "quantitative", "scale": {"domain": [-100, 500]}, "axis": {"values": [0, 100, 200, 300, 400], "title": "Latent heat flux (W m⁻²)", "titleX": -57, "titleY": 154, "titleAngle": -90, "titleBaseline": "middle", "titleAlign": "center"}},
            "color": {"field": "model", "type": "nominal", "scale": {"domain": ["COARE", "J99", "LS89", "Z89L", "C89", "Obs"], "range": ["#ff0000", "#ffa500", "#800080", "#008000", "#0000ff", "#000000"]}, "legend": {"title": null, "orient": "none", "legendX": 1015, "legendY": 302, "symbolType": "M-0.9,0H2.1", "symbolSize": 400, "labelFontSize": 14, "labelColor": "black", "strokeColor": "black", "fillColor": "white", "padding": 7, "rowPadding": 9.3, "labelOffset": 28, "cornerRadius": 0, "labelExpr": "datum.label == 'Obs' ? 'Obs.' : datum.label", "encode": {"symbols": {"update": {"strokeWidth": {"signal": "datum.value === 'Obs' ? 2.2 : 1"}}}}}},
            "strokeWidth": {"condition": {"test": "datum.model === 'Obs'", "value": 2.2}, "value": 1}
          }
        },
        {"data": {"values": [{}]}, "mark": {"type": "text", "align": "left", "baseline": "middle", "fontSize": 14.3, "color": "black"}, "encoding": {"x": {"datum": {"year": 2012, "month": 1, "date": 8}, "type": "temporal", "axis": {"orient": "top", "labels": false, "title": null, "tickCount": {"interval": "month", "step": 3}}}, "y": {"datum": 435, "type": "quantitative", "axis": {"orient": "right", "labels": false, "title": null, "values": [0, 100, 200, 300, 400]}}, "text": {"value": "(a) Original"}}}
      ],
      "resolve": {"axis": {"x": "independent", "y": "independent"}}
    },
    {
      "width": 1011, "height": 160,
      "layer": [
        {"data": {"values": [{}]}, "mark": {"type": "rule", "color": "#222222", "strokeWidth": 1}, "encoding": {"y": {"datum": 0, "type": "quantitative", "scale": {"domain": [-100, 500]}, "axis": null}}},
        {
          "data": {"name": "lb"},
          "transform": [{"fold": ["COARE", "J99", "LS89", "Z89L", "C89", "Obs"], "as": ["model", "v"]}],
          "mark": {"type": "line", "clip": true, "invalid": "break-paths-show-domains"},
          "encoding": {
            "x": {"field": "d", "type": "temporal", "scale": {"domain": [{"year": 2012, "month": 1, "date": 1}, {"year": 2014, "month": 12, "date": 31}]}, "axis": {"title": null, "labels": false, "tickCount": {"interval": "month", "step": 3}}},
            "y": {"field": "v", "type": "quantitative", "scale": {"domain": [-100, 500]}, "axis": {"values": [0, 100, 200, 300, 400], "title": null}},
            "color": {"field": "model", "type": "nominal", "scale": {"domain": ["COARE", "J99", "LS89", "Z89L", "C89", "Obs"], "range": ["#ff0000", "#ffa500", "#800080", "#008000", "#0000ff", "#000000"]}, "legend": {"title": null, "orient": "none", "legendX": 1015, "legendY": 302, "symbolType": "M-0.9,0H2.1", "symbolSize": 400, "labelFontSize": 14, "labelColor": "black", "strokeColor": "black", "fillColor": "white", "padding": 7, "rowPadding": 9.3, "labelOffset": 28, "cornerRadius": 0, "labelExpr": "datum.label == 'Obs' ? 'Obs.' : datum.label", "encode": {"symbols": {"update": {"strokeWidth": {"signal": "datum.value === 'Obs' ? 2.2 : 1"}}}}}},
            "strokeWidth": {"condition": {"test": "datum.model === 'Obs'", "value": 2.2}, "value": 1}
          }
        },
        {"data": {"values": [{}]}, "mark": {"type": "text", "align": "left", "baseline": "middle", "fontSize": 14.3, "color": "black"}, "encoding": {"x": {"datum": {"year": 2012, "month": 1, "date": 8}, "type": "temporal", "axis": {"orient": "top", "labels": false, "title": null, "tickCount": {"interval": "month", "step": 3}}}, "y": {"datum": 435, "type": "quantitative", "axis": {"orient": "right", "labels": false, "title": null, "values": [0, 100, 200, 300, 400]}}, "text": {"value": "(b) Updated z"}}},
        {"data": {"values": [{}]}, "mark": {"type": "text", "align": "left", "baseline": "middle", "fontSize": 9, "font": "DejaVu Serif", "fontStyle": "italic", "color": "black", "dx": 96, "dy": 4}, "encoding": {"x": {"datum": {"year": 2012, "month": 1, "date": 8}, "type": "temporal", "axis": null}, "y": {"datum": 435, "type": "quantitative", "axis": null}, "text": {"value": "0θ, q"}}},
        {"data": {"values": [{}]}, "mark": {"type": "text", "align": "left", "baseline": "middle", "fontSize": 14.3, "color": "black", "dx": 126}, "encoding": {"x": {"datum": {"year": 2012, "month": 1, "date": 8}, "type": "temporal", "axis": null}, "y": {"datum": 435, "type": "quantitative", "axis": null}, "text": {"value": "formula"}}}
      ],
      "resolve": {"axis": {"x": "independent", "y": "independent"}}
    },
    {
      "width": 1011, "height": 160,
      "layer": [
        {"data": {"values": [{}]}, "mark": {"type": "rule", "color": "#222222", "strokeWidth": 1}, "encoding": {"y": {"datum": 0, "type": "quantitative", "scale": {"domain": [-100, 500]}, "axis": null}}},
        {
          "data": {"name": "sc"},
          "transform": [{"fold": ["COARE", "J99", "LS89", "Z89L", "C89", "Obs"], "as": ["model", "v"]}],
          "mark": {"type": "line", "clip": true, "invalid": "break-paths-show-domains"},
          "encoding": {
            "x": {"field": "d", "type": "temporal", "scale": {"domain": [{"year": 2012, "month": 1, "date": 1}, {"year": 2014, "month": 12, "date": 31}]}, "axis": {"title": null, "labels": false, "tickCount": {"interval": "month", "step": 3}}},
            "y": {"field": "v", "type": "quantitative", "scale": {"domain": [-100, 500]}, "axis": {"values": [0, 100, 200, 300, 400], "title": "Sensible heat flux (W m⁻²)", "titleX": -57, "titleY": 154, "titleAngle": -90, "titleBaseline": "middle", "titleAlign": "center"}},
            "color": {"field": "model", "type": "nominal", "scale": {"domain": ["COARE", "J99", "LS89", "Z89L", "C89", "Obs"], "range": ["#ff0000", "#ffa500", "#800080", "#008000", "#0000ff", "#000000"]}, "legend": {"title": null, "orient": "none", "legendX": 1015, "legendY": 302, "symbolType": "M-0.9,0H2.1", "symbolSize": 400, "labelFontSize": 14, "labelColor": "black", "strokeColor": "black", "fillColor": "white", "padding": 7, "rowPadding": 9.3, "labelOffset": 28, "cornerRadius": 0, "labelExpr": "datum.label == 'Obs' ? 'Obs.' : datum.label", "encode": {"symbols": {"update": {"strokeWidth": {"signal": "datum.value === 'Obs' ? 2.2 : 1"}}}}}},
            "strokeWidth": {"condition": {"test": "datum.model === 'Obs'", "value": 2.2}, "value": 1}
          }
        },
        {"data": {"values": [{}]}, "mark": {"type": "text", "align": "left", "baseline": "middle", "fontSize": 14.3, "color": "black"}, "encoding": {"x": {"datum": {"year": 2012, "month": 1, "date": 8}, "type": "temporal", "axis": {"orient": "top", "labels": false, "title": null, "tickCount": {"interval": "month", "step": 3}}}, "y": {"datum": 435, "type": "quantitative", "axis": {"orient": "right", "labels": false, "title": null, "values": [0, 100, 200, 300, 400]}}, "text": {"value": "(c) Original"}}}
      ],
      "resolve": {"axis": {"x": "independent", "y": "independent"}}
    },
    {
      "width": 1011, "height": 160,
      "layer": [
        {"data": {"values": [{}]}, "mark": {"type": "rule", "color": "#222222", "strokeWidth": 1}, "encoding": {"y": {"datum": 0, "type": "quantitative", "scale": {"domain": [-100, 500]}, "axis": null}}},
        {
          "data": {"name": "sd"},
          "transform": [{"fold": ["COARE", "J99", "LS89", "Z89L", "C89", "Obs"], "as": ["model", "v"]}],
          "mark": {"type": "line", "clip": true, "invalid": "break-paths-show-domains"},
          "encoding": {
            "x": {"field": "d", "type": "temporal", "scale": {"domain": [{"year": 2012, "month": 1, "date": 1}, {"year": 2014, "month": 12, "date": 31}]}, "axis": {"title": null, "format": "%b %Y", "labelAngle": -45, "labelAlign": "right", "labelBaseline": "bottom", "labelPadding": 17, "labelFontSize": 15.5, "tickCount": {"interval": "month", "step": 3}}},
            "y": {"field": "v", "type": "quantitative", "scale": {"domain": [-100, 500]}, "axis": {"values": [0, 100, 200, 300, 400], "title": null}},
            "color": {"field": "model", "type": "nominal", "scale": {"domain": ["COARE", "J99", "LS89", "Z89L", "C89", "Obs"], "range": ["#ff0000", "#ffa500", "#800080", "#008000", "#0000ff", "#000000"]}, "legend": {"title": null, "orient": "none", "legendX": 1015, "legendY": 302, "symbolType": "M-0.9,0H2.1", "symbolSize": 400, "labelFontSize": 14, "labelColor": "black", "strokeColor": "black", "fillColor": "white", "padding": 7, "rowPadding": 9.3, "labelOffset": 28, "cornerRadius": 0, "labelExpr": "datum.label == 'Obs' ? 'Obs.' : datum.label", "encode": {"symbols": {"update": {"strokeWidth": {"signal": "datum.value === 'Obs' ? 2.2 : 1"}}}}}},
            "strokeWidth": {"condition": {"test": "datum.model === 'Obs'", "value": 2.2}, "value": 1}
          }
        },
        {"data": {"values": [{}]}, "mark": {"type": "text", "align": "left", "baseline": "middle", "fontSize": 14.3, "color": "black"}, "encoding": {"x": {"datum": {"year": 2012, "month": 1, "date": 8}, "type": "temporal", "axis": {"orient": "top", "labels": false, "title": null, "tickCount": {"interval": "month", "step": 3}}}, "y": {"datum": 435, "type": "quantitative", "axis": {"orient": "right", "labels": false, "title": null, "values": [0, 100, 200, 300, 400]}}, "text": {"value": "(d) Updated z"}}},
        {"data": {"values": [{}]}, "mark": {"type": "text", "align": "left", "baseline": "middle", "fontSize": 9, "font": "DejaVu Serif", "fontStyle": "italic", "color": "black", "dx": 96, "dy": 4}, "encoding": {"x": {"datum": {"year": 2012, "month": 1, "date": 8}, "type": "temporal", "axis": null}, "y": {"datum": 435, "type": "quantitative", "axis": null}, "text": {"value": "0θ, q"}}},
        {"data": {"values": [{}]}, "mark": {"type": "text", "align": "left", "baseline": "middle", "fontSize": 14.3, "color": "black", "dx": 126}, "encoding": {"x": {"datum": {"year": 2012, "month": 1, "date": 8}, "type": "temporal", "axis": null}, "y": {"datum": 435, "type": "quantitative", "axis": null}, "text": {"value": "formula"}}}
      ],
      "resolve": {"axis": {"x": "independent", "y": "independent"}}
    }
  ],
  "spacing": 15,
  "resolve": {"scale": {"color": "shared"}, "legend": {"color": "shared"}}
}
